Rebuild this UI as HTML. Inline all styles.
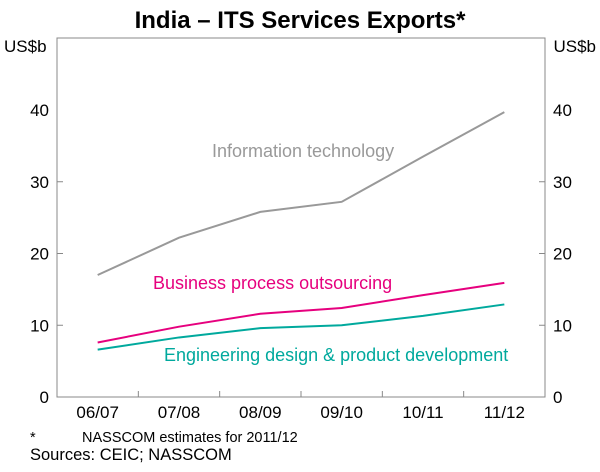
<!DOCTYPE html>
<html><head><meta charset="utf-8"><style>
body{margin:0;background:#fff;}
svg text{font-family:"Liberation Sans",Arial,sans-serif;fill:#000;}
</style></head><body>
<svg id="chart" width="600" height="467" viewBox="0 0 600 467">
<text x="300" y="28" text-anchor="middle" font-size="24" font-weight="bold">India – ITS Services Exports*</text>
<text x="4" y="52" font-size="17">US$b</text>
<text x="596" y="52" font-size="17" text-anchor="end">US$b</text>
<g id="axes"></g>
<g id="series"></g>
<text x="212" y="157" font-size="18" style="fill:#999">Information technology</text>
<text x="153" y="289" font-size="18" style="fill:#e6007e">Business process outsourcing</text>
<text x="164" y="361" font-size="18" style="fill:#00a99d">Engineering design &amp; product development</text>
<text x="30" y="442" font-size="14.5">*</text>
<text x="82" y="442" font-size="14.5">NASSCOM estimates for 2011/12</text>
<text x="30" y="460" font-size="16.5">Sources: CEIC; NASSCOM</text>
</svg>
<script>
const categories=["06/07","07/08","08/09","09/10","10/11","11/12"];
const itValues=[17.0,22.2,25.8,27.2,33.5,39.7];
const bpoValues=[7.6,9.8,11.6,12.4,14.2,15.9];
const engValues=[6.6,8.3,9.6,10.0,11.3,12.9];
const yTicks=[0,10,20,30,40];
const NS="http://www.w3.org/2000/svg";
const L=57,R=545,T=38,B=397;
const y=v=>B-(v/40)*(B-110);
const bw=(R-L)/categories.length;
const x=i=>L+bw*(i+0.5);
const ax=document.getElementById('axes'),sg=document.getElementById('series');
function mk(t,a,p){const e=document.createElementNS(NS,t);for(const k in a)e.setAttribute(k,a[k]);p.appendChild(e);return e;}
const fr=mk('rect',{x:L,y:T,width:R-L,height:B-T,fill:'none',stroke:'#888','stroke-width':1},ax);


yTicks.forEach(v=>{
 const a=mk('text',{x:L-8,y:y(v)+6,'text-anchor':'end','font-size':17},ax);a.textContent=v;
 
 
 const b=mk('text',{x:R+8,y:y(v)+6,'font-size':17},ax);b.textContent=v;
 
 
 if(v>0&&v<40){mk('line',{x1:L,x2:L+6,y1:y(v),y2:y(v),stroke:'#888'},ax);mk('line',{x1:R-6,x2:R,y1:y(v),y2:y(v),stroke:'#888'},ax);}
});
categories.forEach((c,i)=>{
 const t=mk('text',{x:x(i),y:B+21,'text-anchor':'middle','font-size':17},ax);t.textContent=c;
 
 
 if(i>0)mk('line',{x1:L+bw*i,x2:L+bw*i,y1:B,y2:B-6,stroke:'#888'},ax);
});
function line(vals,col,name){
 const p=mk('polyline',{points:vals.map((v,i)=>x(i)+','+y(v)).join(' '),fill:'none',stroke:col,'stroke-width':2},sg);
 
 
}
line(itValues,'#999','it-line');
line(bpoValues,'#e6007e','bpo-line');
line(engValues,'#00a99d','eng-line');
</script>
</body></html>
